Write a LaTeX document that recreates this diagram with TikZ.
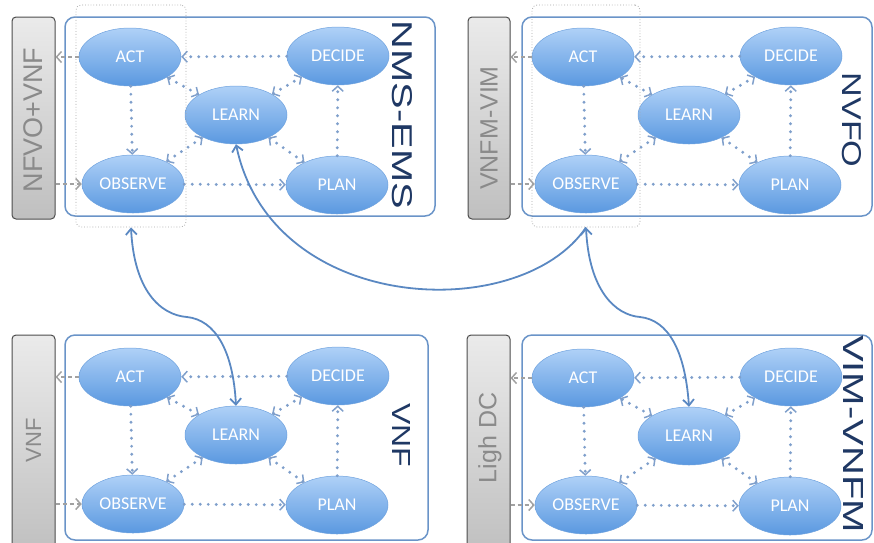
\documentclass[tikz,border=0pt]{standalone}
\usepackage{fontspec}
\usepackage{graphicx}
\usepackage{xcolor}
\setmainfont{Carlito}
\setsansfont{Liberation Sans}
\usetikzlibrary{shapes.geometric,arrows.meta}

\definecolor{frameblue}{HTML}{6A94C8}
\definecolor{linkblue}{HTML}{5A88C2}
\definecolor{dotblue}{HTML}{7F9FCB}
\definecolor{ellTop}{HTML}{AFD1F7}
\definecolor{ellBot}{HTML}{5A98E0}
\definecolor{ellEdge}{HTML}{6FA2DE}
\definecolor{titleblue}{HTML}{1F3864}
\definecolor{sidegray}{HTML}{8A8A8A}

\tikzset{
  phase/.style={ellipse,shade,top color=ellTop,bottom color=ellBot,draw=ellEdge,line width=0.5pt,
    minimum width=102pt,minimum height=58pt,inner sep=0pt,text=white,font=\fontsize{18}{18}\selectfont},
  flow/.style={dotblue,line width=3.2pt,dash pattern=on 0pt off 8pt,line cap=round,
    -{Straight Barb[length=5pt,width=11pt,line width=1.5pt]}},
  duplex/.style={flow,{Straight Barb[length=5pt,width=11pt,line width=1.5pt]}-{Straight Barb[length=5pt,width=11pt,line width=1.5pt]}},
  feed/.style={sidegray!80,line width=2pt,dash pattern=on 4pt off 3pt,
    -{Straight Barb[length=5pt,width=11pt,line width=1.5pt]}},
  link/.style={linkblue,line width=1.8pt,{Straight Barb[length=6pt,width=11pt]}-{Straight Barb[length=6pt,width=11pt]}},
  frame/.style={draw=frameblue,line width=1.5pt,rounded corners=10pt},
  watch/.style={draw=gray!70,dotted,line width=0.8pt,rounded corners=5pt,inner sep=0pt},
  sysbox/.style={draw=black!70,line width=1pt,rounded corners=4pt,top color=black!8,bottom color=black!25,inner sep=0pt},
  syslabel/.style={rotate=90,text=sidegray,inner sep=0pt},
  title/.style={rotate=-90,text=titleblue,inner sep=0pt,font=\sffamily}
}

\begin{document}
\begin{tikzpicture}[x=1pt,y=-1pt]
  \useasboundingbox (0,0) rectangle (874,542);
  \clip (0,0) rectangle (874,542);

  % frames
  \draw[frame] (65,17) rectangle (435,216);
  \draw[frame] (522,17) rectangle (872,216);
  \draw[frame] (65,335) rectangle (428,540);
  \draw[frame] (522,335) rectangle (872,540);

  % side boxes
  \node (sysA) at (33.5,118) [sysbox,minimum width=43pt,minimum height=202pt] {};
  \node (sysB) at (489,118) [sysbox,minimum width=42pt,minimum height=202pt] {};
  \node (sysC) at (33.5,445) [sysbox,minimum width=43pt,minimum height=220pt] {};
  \node (sysD) at (488.5,445) [sysbox,minimum width=43pt,minimum height=220pt] {};
  \node (sysAtext) at (33.5,120) [syslabel,font=\sffamily\fontsize{27}{27}\selectfont] {NFVO+VNF};
  \node (sysBtext) at (489,128) [syslabel,font=\sffamily\fontsize{25}{25}\selectfont] {VNFM-VIM};
  \node (sysCtext) at (33.5,440) [syslabel,font=\sffamily\fontsize{22}{22}\selectfont] {VNF};
  \node (sysDtext) at (490,438) [syslabel,font=\sffamily\fontsize{25}{25}\selectfont] {Ligh DC};

  % titles
  \node (titleA) at (402,115) [title] {\resizebox{188pt}{20pt}{NMS-EMS}};
  \node (titleB) at (852,120) [title] {\resizebox{95pt}{19pt}{NVFO}};
  \node (titleC) at (401,435) [title] {\resizebox{64pt}{18pt}{VNF}};
  \node (titleD) at (853,434) [title] {\resizebox{198pt}{20pt}{VIM-VNFM}};

  % loops
  \foreach \p/\dx/\dy in {A/0/0,B/453/0,C/0/320,D/453/321}{
    \begin{scope}[shift={(\dx,\dy)}]
      \node (act\p) at (130,57) [phase] {ACT};
      \node (decide\p) at (338,56) [phase] {DECIDE};
      \node (learn\p) at (236,115) [phase] {LEARN};
      \node (observe\p) at (133,184) [phase] {OBSERVE};
      \node (plan\p) at (337,185) [phase] {PLAN};

      \draw[flow] (decide\p) -- (act\p);
      \draw[flow] (act\p) -- (observe\p);
      \draw[flow] (observe\p) -- (plan\p);
      \draw[flow] (plan\p) -- (decide\p);
      \draw[duplex] (learn\p) -- (act\p);
      \draw[duplex] (learn\p) -- (decide\p);
      \draw[duplex] (learn\p) -- (observe\p);
      \draw[duplex] (learn\p) -- (plan\p);
    \end{scope}
  }

  % feeds to and from the side boxes
  \draw[feed] (actA.west) -- (actA.west -| sysA.east);
  \draw[feed] (observeA.west -| sysA.east) -- (observeA.west);
  \draw[feed] (actB.west) -- (actB.west -| sysB.east);
  \draw[feed] (observeB.west -| sysB.east) -- (observeB.west);
  \draw[feed] (actC.west) -- (actC.west -| sysC.east);
  \draw[feed] (observeC.west -| sysC.east) -- (observeC.west);
  \draw[feed] (actD.west) -- (actD.west -| sysD.east);
  \draw[feed] (observeD.west -| sysD.east) -- (observeD.west);

  % watched regions
  \node (loopA) at (131,116) [watch,minimum width=110pt,minimum height=222pt] {};
  \node (loopB) at (586,116) [watch,minimum width=108pt,minimum height=222pt] {};

  % links between levels
  \draw[link] (loopA.south) .. controls (134,290) and (160,315) .. (187,317)
    .. controls (215,320) and (233,350) .. (learnC.north);
  \draw[link] (loopB.south) .. controls (589,290) and (615,315) .. (640,317)
    .. controls (668,320) and (685,350) .. (learnD.north);
  \draw[link,{Straight Barb[length=6pt,width=11pt]}-] (learnA.south) .. controls (272,315) and (520,325) .. (loopB.south);
\end{tikzpicture}
\end{document}
